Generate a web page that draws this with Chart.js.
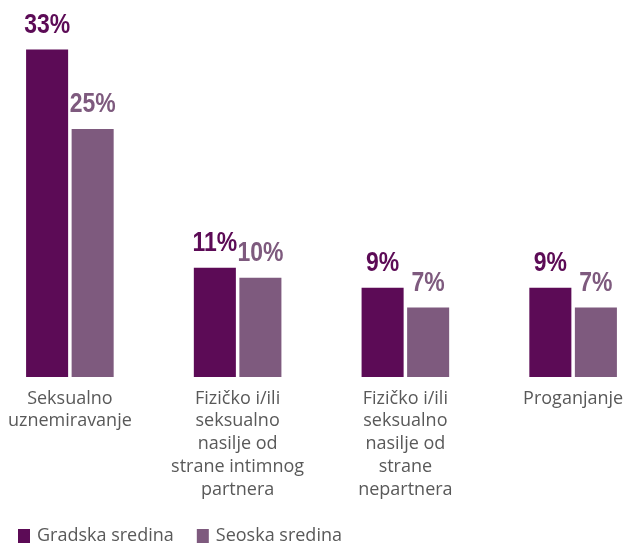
<!DOCTYPE html>
<html>
<head>
<meta charset="utf-8">
<script src="https://cdn.jsdelivr.net/npm/chart.js@4.4.0/dist/chart.umd.min.js"></script>
<style>
  html, body { margin: 0; padding: 0; background: #fff; overflow: hidden; }
  #wrap { position: absolute; left: -14px; top: 0; width: 671px; height: 546px; }
</style>
</head>
<body>
<div id="wrap"><canvas id="chart" width="671" height="546"></canvas></div>
<script>
var categories = [
	["Seksualno", "uznemiravanje"],
	["Fizičko i/ili", "seksualno", "nasilje od", "strane intimnog", "partnera"],
	["Fizičko i/ili", "seksualno", "nasilje od", "strane", "nepartnera"],
	["Proganjanje"]
];
var gradska = [33, 11, 9, 9];
var seoska = [25, 10, 7, 7];
var seriesNames = ["Gradska sredina", "Seoska sredina"];
var seriesColors = ["#5c0b56", "#7e5a7e"];

var textGray = "#595959";

// value labels above bars (narrow bold look: squeeze Liberation Sans bold)
var valueLabels = {
	id: "valueLabels",
	afterDatasetsDraw: function (chart) {
		var ctx = chart.ctx;
		chart.data.datasets.forEach(function (ds, i) {
			var meta = chart.getDatasetMeta(i);
			meta.data.forEach(function (bar, j) {
				ctx.save();
				ctx.font = "bold 28px 'Liberation Sans', Arial, sans-serif";
				ctx.textAlign = "center";
				ctx.textBaseline = "alphabetic";
				ctx.fillStyle = ds.backgroundColor;
				ctx.translate(bar.x, bar.y - 17);
				ctx.scale(0.82, 1);
				ctx.fillText(ds.data[j] + "%", 0, 0);
				ctx.restore();
			});
		});
	}
};

// legend at the bottom left
var bottomLegend = {
	id: "bottomLegend",
	afterDraw: function (chart) {
		var ctx = chart.ctx;
		ctx.save();
		ctx.font = "18px 'Open Sans', sans-serif";
		ctx.textBaseline = "middle";
		ctx.textAlign = "left";
		var x = 32;
		var y = 536;
		chart.data.datasets.forEach(function (ds) {
			ctx.fillStyle = ds.backgroundColor;
			ctx.fillRect(x, y - 7, 12, 14);
			ctx.fillStyle = textGray;
			ctx.fillText(ds.label, x + 19, y);
			x += 19 + ctx.measureText(ds.label).width + 23;
		});
		ctx.restore();
	}
};

new Chart(document.getElementById("chart"), {
	type: "bar",
	data: {
		labels: categories,
		datasets: [{
			label: seriesNames[0],
			data: gradska,
			backgroundColor: seriesColors[0],
			borderWidth: 0,
			categoryPercentage: 0.543,
			barPercentage: 0.923
		}, {
			label: seriesNames[1],
			data: seoska,
			backgroundColor: seriesColors[1],
			borderWidth: 0,
			categoryPercentage: 0.543,
			barPercentage: 0.923
		}]
	},
	options: {
		responsive: false,
		animation: false,
		layout: { padding: 0 },
		plugins: {
			legend: { display: false },
			tooltip: { enabled: false }
		},
		scales: {
			x: {
				grid: { display: false, drawTicks: false },
				border: { display: false },
				ticks: {
					color: textGray,
					padding: 10,
					maxRotation: 0,
					autoSkip: false,
					font: { family: "'Open Sans', sans-serif", size: 18, lineHeight: 1.27 }
				},
				afterFit: function (scale) { scale.height = 169; }
			},
			y: {
				display: false,
				min: 0,
				max: 38
			}
		}
	},
	plugins: [valueLabels, bottomLegend]
});
</script>
</body>
</html>
